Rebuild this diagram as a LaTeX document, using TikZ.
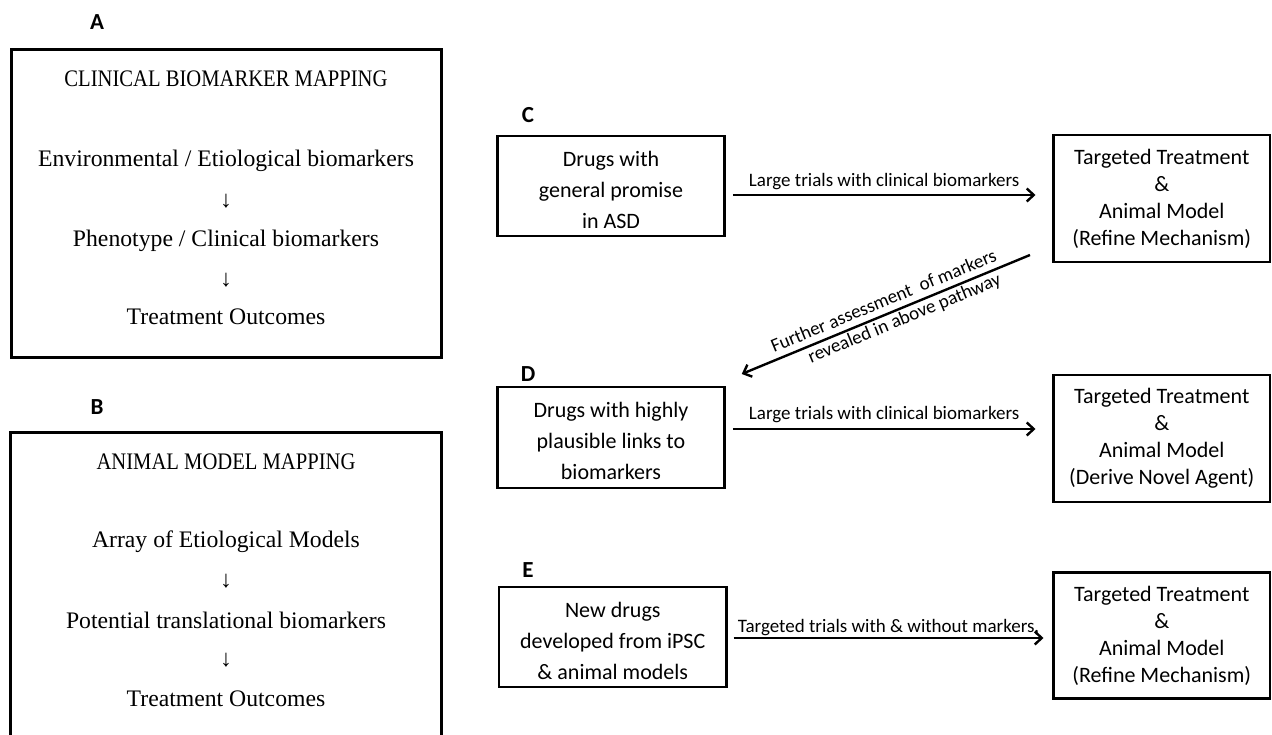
\documentclass[tikz,border=0pt]{standalone}
\usepackage{fontspec}
\setmainfont{Liberation Serif}
\newfontfamily\calib{Carlito}
\usetikzlibrary{arrows.meta}
\begin{document}
\begin{tikzpicture}[x=1pt,y=-1pt,
  lbox/.style={draw, line width=3pt, inner sep=0pt, outer sep=0pt, anchor=north west},
  rbox/.style={draw, line width=2.6pt, inner sep=0pt, outer sep=0pt, align=center, font=\calib\fontsize{22}{27}\selectfont},
  rtext/.style={inner sep=0pt, align=center, font=\calib\fontsize{22}{31}\selectfont},
  ltext/.style={anchor=base, inner sep=0pt, font=\fontsize{23.7}{28}\selectfont},
  panel/.style={font=\calib\bfseries\fontsize{23}{26}\selectfont, inner sep=0pt},
  elabel/.style={font=\calib\fontsize{19}{23}\selectfont},
  arr/.style={line width=2.4pt, -{Straight Barb[length=7pt,width=13pt]}}
]
\clip (0,0) rectangle (1272,735);
\fill[white] (0,0) rectangle (1272,735);

% panel letters
\node[panel] (la) at (97,22) {A};
\node[panel] (lb) at (97,407) {B};
\node[panel] (lc) at (528,115) {C};
\node[panel] (ld) at (528,374) {D};
\node[panel] (le) at (528,570) {E};

% box A
\node[lbox, minimum width=430.5pt, minimum height=308pt] (boxa) at (11,50) {};
\node[ltext] (a0) at (226,87) {\scalebox{0.87}[1]{CLINICAL BIOMARKER MAPPING}};
\node[ltext] (a1) at (226,167) {Environmental / Etiological biomarkers};
\node[ltext, anchor=center] (a2) at (226,201) {↓};
\node[ltext] (a3) at (226,247) {Phenotype / Clinical biomarkers};
\node[ltext, anchor=center] (a4) at (226,280) {↓};
\node[ltext] (a5) at (226,325) {Treatment Outcomes};

% box B
\node[lbox, minimum width=431pt, minimum height=340pt] (boxb) at (10,432) {};
\node[ltext] (b0) at (226,469) {\scalebox{0.87}[1]{ANIMAL MODEL MAPPING}};
\node[ltext] (b1) at (226,547) {Array of Etiological Models};
\node[ltext, anchor=center] (b2) at (226,581) {↓};
\node[ltext] (b3) at (226,628) {Potential translational biomarkers};
\node[ltext, anchor=center] (b4) at (226,660) {↓};
\node[ltext] (b5) at (226,706) {Treatment Outcomes};

% right boxes
\node[rbox, minimum width=227.5pt, minimum height=100pt] (c1) at (611,186) {};
\node[rtext] (c1t) at (611,190) {Drugs with\\general promise\\in ASD};
\node[rbox, minimum width=216.5pt, minimum height=127pt] (c2) at (1161.75,198.5) {Targeted Treatment\\\&\\Animal Model\\(Refine Mechanism)};
\node[rbox, minimum width=227.5pt, minimum height=101pt] (d1) at (611,437.5) {};
\node[rtext] (d1t) at (611,441) {Drugs with highly\\plausible links to\\biomarkers};
\node[rbox, minimum width=216.5pt, minimum height=127pt] (d2) at (1161.75,438.5) {Targeted Treatment\\\&\\Animal Model\\(Derive Novel Agent)};
\node[rbox, minimum width=227.5pt, minimum height=100pt] (e1) at (612.75,637) {};
\node[rtext] (e1t) at (612.75,640.5) {New drugs\\developed from iPSC\\\& animal models};
\node[rbox, minimum width=216.5pt, minimum height=126pt] (e2) at (1161.75,635.5) {Targeted Treatment\\\&\\Animal Model\\(Refine Mechanism)};

% horizontal arrows
\draw[arr] ([xshift=8pt,yshift=-9pt]c1.east) -- ([xshift=-18pt,yshift=-9pt]c1.east -| c2.west)
  node[elabel, midway, above, inner sep=4.5pt] (lblc) {Large trials with clinical biomarkers};
\draw[arr] ([xshift=8pt,yshift=8.5pt]d1.east) -- ([xshift=-18pt,yshift=8.5pt]d1.east -| d2.west)
  node[elabel, midway, above, inner sep=5pt] (lbld) {Large trials with clinical biomarkers};
\draw[arr] ([xshift=7pt,yshift=-1pt]e1.east) -- ([xshift=-10pt,yshift=-1pt]e1.east -| e2.west)
  node[elabel, midway, above, inner sep=1.5pt] (lble) {Targeted trials with \& without markers,};

% diagonal arrow
\coordinate (ds) at ([xshift=-23.5pt,yshift=7pt]c2.south west);
\coordinate (dt) at ([xshift=17pt,yshift=13pt]d1.north east);
\draw[arr] (ds) -- (dt);
\path (dt) -- (ds)
  node[elabel, pos=0.51, sloped, above, inner sep=7pt] (lblf1) {Further assessment\ \ of markers}
  node[elabel, pos=0.55, sloped, below, inner sep=3pt] (lblf2) {revealed in above pathway};
\end{tikzpicture}
\end{document}
